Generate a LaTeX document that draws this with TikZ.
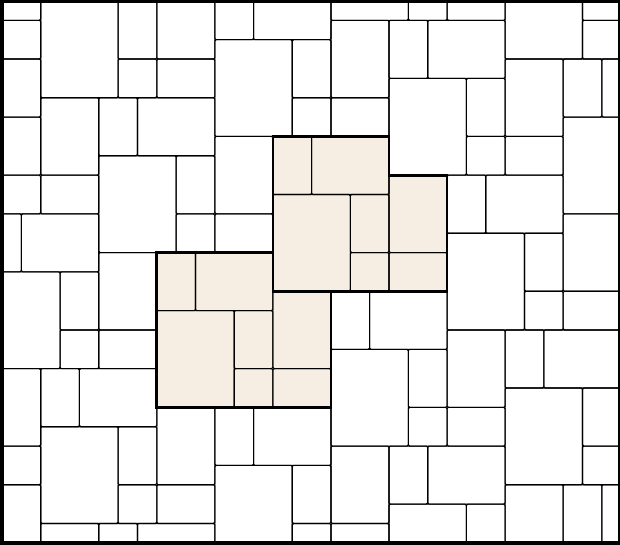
\documentclass[tikz,border=0pt]{standalone}
\usepackage{tikz}
\definecolor{tilebeige}{RGB}{246,238,226}
\tikzset{
  tileline/.style={draw=black, line width=1.1pt, rounded corners=1.3pt},
  tilefill/.style={fill=tilebeige, rounded corners=1.3pt},
  blockline/.style={draw=black, line width=2.8pt, line join=miter},
  frameline/.style={draw=black, line width=3.5pt}
}
% the seven tiles of one repeat, offset by (#1,#2), drawn with style #3
\newcommand\repeatunit[3]{%
  \begin{scope}[shift={(#1,#2)}]
    \path[#3] (14,7)  rectangle ++(2,3);
    \path[#3] (16,7)  rectangle ++(4,3);
    \path[#3] (14,10) rectangle ++(4,5);
    \path[#3] (18,10) rectangle ++(2,3);
    \path[#3] (20,9)  rectangle ++(3,4);
    \path[#3] (18,13) rectangle ++(2,2);
    \path[#3] (20,13) rectangle ++(3,2);
  \end{scope}}
\begin{document}
\begin{tikzpicture}
\useasboundingbox (0,0) rectangle (620pt,-545pt);
\fill[white] (0,0) rectangle (620pt,-545pt);
\begin{scope}[shift={(2pt,-1pt)}, x=19.35pt, y=-19.35pt]
  \begin{scope}
    \clip (0,0) rectangle (31.92,28);
    % highlighted repeats
    \repeatunit{0}{0}{tilefill}
    \repeatunit{-6}{6}{tilefill}
    % all tiles
    \foreach \n in {-6,...,6}{
      \foreach \m in {-5,...,5}{
        \pgfmathtruncatemacro\dx{6*\n+9*\m}
        \pgfmathtruncatemacro\dy{-6*\n+2*\m}
        \repeatunit{\dx}{\dy}{tileline}
      }
    }
  \end{scope}
  % outlines of the highlighted repeats
  \draw[blockline] (14,7) -- (20,7) -- (20,9) -- (23,9) -- (23,15) -- (14,15) -- cycle;
  \draw[blockline] (8,13) -- (14,13) -- (14,15) -- (17,15) -- (17,21) -- (8,21) -- cycle;
  % frame
  \draw[frameline] (0,0) rectangle (31.92,28);
\end{scope}
\end{tikzpicture}
\end{document}
